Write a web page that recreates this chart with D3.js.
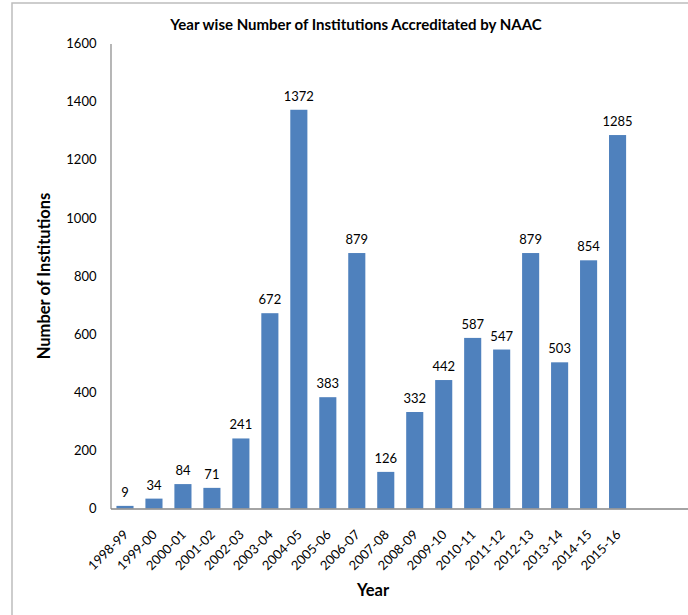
<!DOCTYPE html>
<html>
<head>
<meta charset="utf-8">
<script src="https://cdn.jsdelivr.net/npm/d3@7"></script>
<style>
  html, body { margin: 0; padding: 0; background: #fff; }
  svg { display: block; }
  text { font-family: Lato, "Open Sans", sans-serif; fill: #000; }
</style>
</head>
<body>
<svg id="chart" width="688" height="615"></svg>
<script>
const categories = ["1998-99","1999-00","2000-01","2001-02","2002-03","2003-04","2004-05","2005-06","2006-07","2007-08","2008-09","2009-10","2010-11","2011-12","2012-13","2013-14","2014-15","2015-16"];
const values = [9,34,84,71,241,672,1372,383,879,126,332,442,587,547,879,503,854,1285];
const yTicks = [0,200,400,600,800,1000,1200,1400,1600];
const emptySlots = ["_a","_b"];

const svg = d3.select("#chart");
const W = 688, H = 615;
const mLeft = 110.5, mRight = 690, mTop = 43.5, mBottom = 508.5;

// frame
svg.append("rect").attr("x", 12).attr("y", 3).attr("width", W).attr("height", H)
  .attr("fill", "none").attr("stroke", "#bdbdbd").attr("stroke-width", 1.5);

const x = d3.scaleBand().domain(categories.concat(emptySlots)).range([mLeft, mRight]).paddingInner(0.41).paddingOuter(0.205);
const y = d3.scaleLinear().domain([0, 1600]).range([mBottom, mTop]);

// bars
svg.append("g").selectAll("rect").data(values).join("rect")
  .attr("x", (d, i) => x(categories[i]))
  .attr("y", d => y(d))
  .attr("width", x.bandwidth())
  .attr("height", d => y(0) - y(d))
  .attr("fill", "#4F81BD");

// value labels
svg.append("g").selectAll("text").data(values).join("text")
  .attr("x", (d, i) => x(categories[i]) + x.bandwidth() / 2)
  .attr("y", d => y(d) - 9)
  .attr("text-anchor", "middle")
  .attr("font-size", 13)
  .text(d => d);

// y axis
const yAxis = d3.axisLeft(y).tickValues(yTicks).tickFormat(d3.format("d")).tickSize(0).tickPadding(14);
const gy = svg.append("g").attr("transform", `translate(${mLeft},0)`).call(yAxis);
gy.select(".domain").attr("stroke", "#868686").attr("stroke-width", 1.2);
gy.selectAll("text").attr("font-size", 13).attr("font-family", "Lato, sans-serif").attr("fill", "#000");

// x axis
const xAxis = d3.axisBottom(x).tickValues(categories).tickSize(0).tickPadding(0);
const gx = svg.append("g").attr("transform", `translate(0,${mBottom})`).call(xAxis);
gx.select(".domain").attr("stroke", "#868686").attr("stroke-width", 1.5);
gx.selectAll("text")
  .attr("font-size", 13).attr("font-family", "Lato, sans-serif").attr("fill", "#000")
  .attr("text-anchor", "end")
  .attr("dy", 0)
  .attr("transform", "translate(4,27) rotate(-45)");

// titles
svg.append("text").attr("x", 356).attr("y", 30).attr("text-anchor", "middle")
  .attr("font-size", 15).attr("font-weight", "bold").text("Year wise Number of Institutions Accreditated by NAAC");
svg.append("text").attr("transform", "translate(50,276) rotate(-90)").attr("text-anchor", "middle")
  .attr("font-size", 16.5).attr("font-weight", "bold").text("Number of Institutions");
svg.append("text").attr("x", 373).attr("y", 596).attr("text-anchor", "middle")
  .attr("font-size", 16.5).attr("font-weight", "bold").text("Year");
</script>
</body>
</html>
